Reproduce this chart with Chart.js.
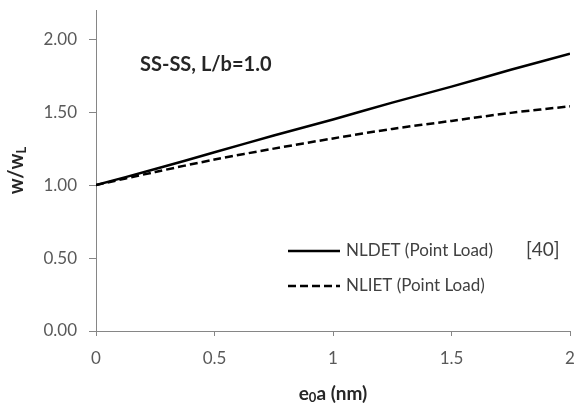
<!DOCTYPE html>
<html>
<head>
<meta charset="utf-8">
<script src="https://cdn.jsdelivr.net/npm/chart.js@4/dist/chart.umd.min.js"></script>
<style>
  html, body { margin: 0; padding: 0; background: #fff; }
  #wrap { width: 578px; height: 405px; position: relative; }
</style>
</head>
<body>
<div id="wrap"><canvas id="myChart"></canvas></div>
<script>
const xValues = [0, 0.25, 0.5, 0.75, 1, 1.25, 1.5, 1.75, 2];
const nldet = [1.0, 1.11, 1.225, 1.34, 1.45, 1.565, 1.675, 1.79, 1.9];
const nliet = [1.0, 1.09, 1.175, 1.25, 1.32, 1.385, 1.44, 1.495, 1.54];
const seriesLabels = ["NLDET (Point Load)", "NLIET (Point Load)"];
const xTicks = [0, 0.5, 1, 1.5, 2];
const yTicks = [0, 0.5, 1, 1.5, 2];

const FONT = "Lato, 'Open Sans', sans-serif";
const toPoints = (ys) => xValues.map((x, i) => ({ x, y: ys[i] }));

// text, legend and axis titles with subscripts
const annotations = {
  id: "annotations",
  afterDraw(chart) {
    const ctx = chart.ctx;
    const area = chart.chartArea;
    ctx.save();
    ctx.fillStyle = "#262626";
    ctx.textBaseline = "middle";

    ctx.font = "bold 20px " + FONT;
    ctx.textAlign = "left";
    ctx.fillText("SS-SS, L/b=1.0", 140, 65);

    // x title e0a (nm)
    ctx.font = "bold 19px " + FONT;
    const part1 = "e", sub = "0", part2 = "a (nm)";
    const w1 = ctx.measureText(part1).width;
    const w3 = ctx.measureText(part2).width;
    ctx.font = "bold 13px " + FONT;
    const w2 = ctx.measureText(sub).width;
    let x = (area.left + area.right) / 2 - (w1 + w2 + w3) / 2;
    const ty = 394;
    ctx.font = "bold 19px " + FONT;
    ctx.fillText(part1, x, ty);
    ctx.font = "bold 13px " + FONT;
    ctx.fillText(sub, x + w1, ty + 4);
    ctx.font = "bold 19px " + FONT;
    ctx.fillText(part2, x + w1 + w2, ty);

    // y title w/wL
    ctx.save();
    ctx.translate(17, (area.top + area.bottom) / 2);
    ctx.rotate(-Math.PI / 2);
    ctx.font = "bold 20px " + FONT;
    const ya = "w/w";
    const wa = ctx.measureText(ya).width;
    ctx.font = "bold 13px " + FONT;
    const wb = ctx.measureText("L").width;
    const sx = -(wa + wb) / 2;
    ctx.font = "bold 20px " + FONT;
    ctx.fillText(ya, sx, 0);
    ctx.font = "bold 13px " + FONT;
    ctx.fillText("L", sx + wa, 5);
    ctx.restore();

    // legend
    const rows = [251, 286];
    chart.data.datasets.forEach((ds, i) => {
      ctx.beginPath();
      ctx.strokeStyle = ds.borderColor;
      ctx.lineWidth = ds.borderWidth;
      ctx.setLineDash(ds.borderDash || []);
      ctx.moveTo(288, rows[i]);
      ctx.lineTo(340, rows[i]);
      ctx.stroke();
      ctx.setLineDash([]);
      ctx.font = "17px " + FONT;
      ctx.fillStyle = "#404040";
      ctx.fillText(ds.label, 346, rows[i]);
    });
    ctx.font = "19px " + FONT;
    ctx.fillText("[40]", 526, rows[0] - 1);
    ctx.restore();
  },
};

const canvas = document.querySelector("canvas#myChart");
new Chart(canvas, {
  type: "line",
  data: {
    datasets: [
      {
        label: seriesLabels[0],
        data: toPoints(nldet),
        borderColor: "#000",
        borderWidth: 2.5,
        pointRadius: 0,
        tension: 0.3,
        fill: false,
      },
      {
        label: seriesLabels[1],
        data: toPoints(nliet),
        borderColor: "#000",
        borderWidth: 2.5,
        borderDash: [8, 4],
        pointRadius: 0,
        tension: 0.3,
        fill: false,
      },
    ],
  },
  options: {
    responsive: true,
    maintainAspectRatio: false,
    animation: false,
    layout: { padding: { left: 0, right: 8, top: 10, bottom: 0 } },
    plugins: { legend: { display: false }, tooltip: { enabled: false } },
    scales: {
      x: {
        type: "linear",
        min: 0,
        max: 2,
        afterBuildTicks: (axis) => { axis.ticks = xTicks.map((v) => ({ value: v })); },
        afterFit: (axis) => {
          axis.height = 74;
          axis.paddingLeft = 0;
          axis.paddingRight = 0;
        },
        border: { color: "#868686", width: 1 },
        grid: { drawOnChartArea: false, color: "#868686", tickLength: 5 },
        ticks: {
          color: "#595959",
          font: { family: FONT, size: 17 },
          padding: 12,
          maxRotation: 0,
          callback: (v) => String(v),
        },
      },
      y: {
        type: "linear",
        min: 0,
        max: 2.2,
        afterBuildTicks: (axis) => { axis.ticks = yTicks.map((v) => ({ value: v })); },
        afterFit: (axis) => {
          axis.width = 96;
          axis.paddingTop = 0;
          axis.paddingBottom = 0;
        },
        border: { color: "#868686", width: 1 },
        grid: { drawOnChartArea: false, color: "#868686", tickLength: 7 },
        ticks: {
          color: "#595959",
          font: { family: FONT, size: 17 },
          padding: 12,
          callback: (v) => v.toFixed(2),
        },
      },
    },
  },
  plugins: [annotations],
});
</script>
</body>
</html>
